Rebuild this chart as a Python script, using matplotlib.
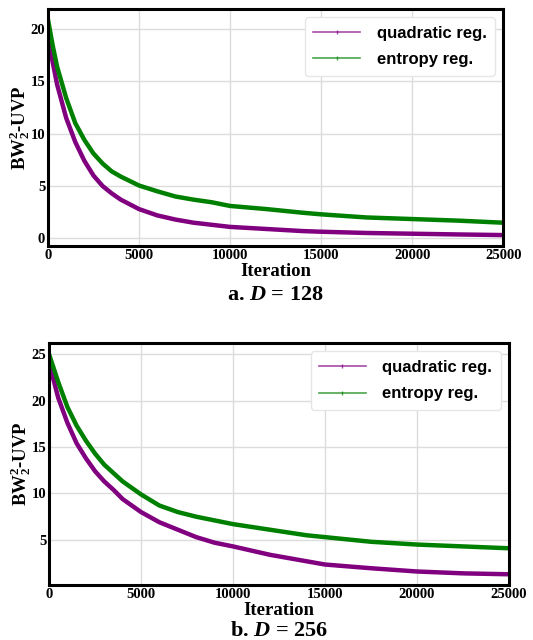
import numpy as np
import matplotlib.pyplot as plt
from matplotlib.lines import Line2D

# iteration grid
iters = [0, 250, 500, 1000, 1500, 2000, 2500, 3000, 3500, 4000, 5000, 6000, 7000, 8000,
         9000, 10000, 12000, 14000, 15000, 17500, 20000, 22500, 25000]

# D = 128
quad_128 = [19.6, 16.9, 14.7, 11.5, 9.2, 7.4, 6.0, 5.0, 4.3, 3.7, 2.8, 2.2, 1.8, 1.5,
            1.3, 1.1, 0.9, 0.7, 0.64, 0.52, 0.45, 0.38, 0.32]
ent_128 = [20.9, 18.5, 16.4, 13.4, 11.0, 9.4, 8.1, 7.15, 6.4, 5.9, 5.05, 4.5, 4.0, 3.7,
           3.45, 3.1, 2.8, 2.45, 2.3, 2.0, 1.85, 1.7, 1.5]

# D = 256
quad_256 = [23.8, 22.2, 20.3, 17.6, 15.4, 13.8, 12.4, 11.3, 10.4, 9.4, 8.0, 6.9, 6.1, 5.3,
            4.7, 4.3, 3.4, 2.7, 2.35, 1.95, 1.6, 1.4, 1.3]
ent_256 = [25.0, 23.5, 22.0, 19.3, 17.3, 15.7, 14.3, 13.1, 12.2, 11.3, 9.9, 8.7, 8.0, 7.5,
           7.1, 6.7, 6.1, 5.5, 5.3, 4.8, 4.5, 4.3, 4.1]

labels = ["quadratic reg.", "entropy reg."]
colors = ["purple", "green"]

plt.rcParams['mathtext.fontset'] = 'custom'
plt.rcParams['mathtext.rm'] = 'Liberation Serif:bold'
plt.rcParams['mathtext.it'] = 'Liberation Serif:italic:bold'
plt.rcParams['mathtext.bf'] = 'Liberation Serif:bold'

fig = plt.figure(figsize=(5.33, 6.4), dpi=100)
ax1 = fig.add_axes([0.090, 0.616, 0.854, 0.370])
ax2 = fig.add_axes([0.092, 0.086, 0.863, 0.378])


def draw(ax, quad, ent, ylim, yticks, caption, cap_y):
    ax.plot(iters, quad, color=colors[0], lw=3.2, solid_joinstyle='round')
    ax.plot(iters, ent, color=colors[1], lw=3.2, solid_joinstyle='round')
    ax.set_xlim(0, 25000)
    ax.set_ylim(*ylim)
    ax.set_xticks([0, 5000, 10000, 15000, 20000, 25000])
    ax.set_yticks(yticks)
    ax.grid(True, color='#dcdcdc', lw=1)
    ax.set_axisbelow(True)
    ax.tick_params(length=0, pad=2)
    for lab in ax.get_xticklabels() + ax.get_yticklabels():
        lab.set_fontfamily('Liberation Serif')
        lab.set_fontweight('bold')
        lab.set_fontsize(10.5)
    for sp in ax.spines.values():
        sp.set_linewidth(2.2)
        sp.set_color('black')
    ax.set_xlabel("Iteration", fontfamily='Liberation Serif', fontweight='bold',
                  fontsize=13.5, labelpad=1)
    ax.set_ylabel(r"$\mathrm{BW}_2^2$-UVP", fontfamily='Liberation Serif',
                  fontweight='bold', fontsize=13.5, labelpad=-1)
    handles = [Line2D([], [], color=c, lw=1.2, alpha=0.7, marker='|', markersize=3)
               for c in colors]
    leg = ax.legend(handles, labels, loc='upper right', handlelength=2.8,
                    handletextpad=1.0, labelspacing=0.7, borderpad=0.5,
                    prop={'family': 'Liberation Sans', 'weight': 'bold', 'size': 12},
                    framealpha=1, fancybox=True)
    leg.get_frame().set_edgecolor('#e6e6e6')
    ax.text(0.5, cap_y, caption, transform=ax.transAxes, ha='center', va='center',
            fontfamily='Liberation Serif', fontweight='bold', fontsize=16)


draw(ax1, quad_128, ent_128, (-0.7, 21.9), [0, 5, 10, 15, 20], r"a. $D$ = 128", -0.207)
draw(ax2, quad_256, ent_256, (0.15, 26.2), [5, 10, 15, 20, 25], r"b. $D$ = 256", -0.19)

fig.savefig("out.png", dpi=100)
